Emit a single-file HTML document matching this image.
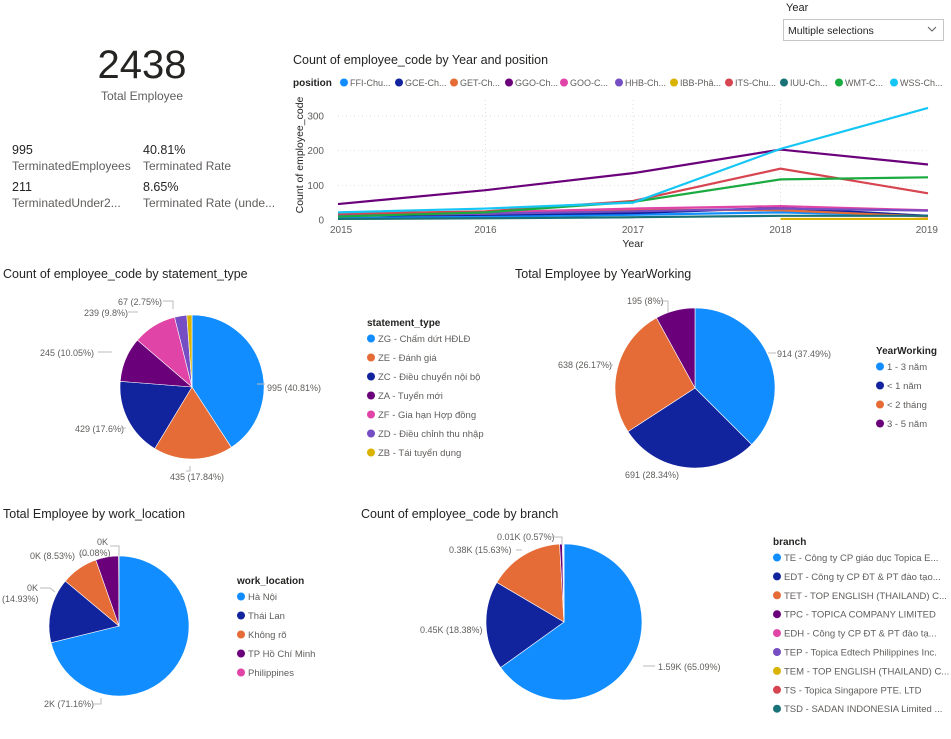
<!DOCTYPE html>
<html><head><meta charset="utf-8"><style>
body{margin:0;background:#fff;width:951px;height:734px;overflow:hidden;font-family:"Liberation Sans","Noto Sans CJK SC",sans-serif}
svg text{font-family:"Liberation Sans","Noto Sans CJK SC",sans-serif}
</style></head><body>
<svg id="s" width="951" height="734" viewBox="0 0 951 734" xmlns="http://www.w3.org/2000/svg">
<g>
<text x="786" y="11" font-size="11" fill="#252423">Year</text>
<rect x="783.5" y="19.5" width="160" height="21" fill="#fff" stroke="#c8c6c4"/>
<text x="788" y="34" font-size="10.5" fill="#252423">Multiple selections</text>
<path d="M928 27 l4 4 l4 -4" fill="none" stroke="#605e5c"/>
</g>
<g>
<text x="142" y="78" font-size="40" text-anchor="middle" fill="#252423">2438</text>
<text x="142" y="100" font-size="12" text-anchor="middle" fill="#605e5c">Total Employee</text>
<text x="12" y="154" font-size="12.5" fill="#252423">995</text>
<text x="12" y="170" font-size="12" fill="#605e5c">TerminatedEmployees</text>
<text x="143" y="154" font-size="12.5" fill="#252423">40.81%</text>
<text x="143" y="170" font-size="12" fill="#605e5c">Terminated Rate</text>
<text x="12" y="191" font-size="12.5" fill="#252423">211</text>
<text x="12" y="207" font-size="12" fill="#605e5c">TerminatedUnder2...</text>
<text x="143" y="191" font-size="12.5" fill="#252423">8.65%</text>
<text x="143" y="207" font-size="12" fill="#605e5c">Terminated Rate (unde...</text>
</g>
<text x="293" y="64" font-size="12.5" fill="#252423">Count of employee_code by Year and position</text>
<g id="lineLegend"><text x="293" y="86" font-size="10" font-weight="bold" fill="#252423">position</text></g>
<g id="lineChart"></g>
<text x="318" y="170" font-size="10.5" fill="#252423" transform="rotate(-90 303 170)" text-anchor="middle">Count of employee_code</text>
<text x="633" y="247" font-size="10.5" fill="#252423" text-anchor="middle">Year</text>

<text x="3" y="278" font-size="12.5" fill="#252423">Count of employee_code by statement_type</text>
<text x="515" y="278" font-size="12.5" fill="#252423">Total Employee by YearWorking</text>
<text x="3" y="518" font-size="12.5" fill="#252423">Total Employee by work_location</text>
<text x="361" y="518" font-size="12.5" fill="#252423">Count of employee_code by branch</text>
<g id="pies"></g>
<g id="legends"></g>
<g font-size="9" fill="#605e5c">
<text x="267" y="391">995 (40.81%)</text><path d="M257 384 h8" stroke="#bbb" fill="none"/>
<text x="170" y="480">435 (17.84%)</text><path d="M190 466 v5 h-4" stroke="#bbb" fill="none"/>
<text x="75" y="432">429 (17.6%)</text><path d="M120 428 h6" stroke="#bbb" fill="none"/>
<text x="40" y="356">245 (10.05%)</text><path d="M98 352 h14" stroke="#bbb" fill="none"/>
<text x="84" y="316">239 (9.8%)</text><path d="M128 312 h10" stroke="#bbb" fill="none"/>
<text x="118" y="305">67 (2.75%)</text><path d="M163 301 h10 v8" stroke="#bbb" fill="none"/>
<text x="777" y="357">914 (37.49%)</text><path d="M768 353 h8" stroke="#bbb" fill="none"/>
<text x="625" y="478">691 (28.34%)</text>
<text x="558" y="368">638 (26.17%)</text><path d="M605 365 h8" stroke="#bbb" fill="none"/>
<text x="627" y="304">195 (8%)</text><path d="M660 301 h8 v12" stroke="#bbb" fill="none"/>
<text x="44" y="707">2K (71.16%)</text><path d="M92 704 h9 v-6" stroke="#bbb" fill="none"/>
<text x="27" y="591">0K</text><text x="2" y="602">(14.93%)</text><path d="M40 588 h10 l5 4" stroke="#bbb" fill="none"/>
<text x="30" y="559">0K (8.53%)</text><path d="M80 555 h8" stroke="#bbb" fill="none"/>
<text x="97" y="545">0K</text><text x="79" y="556">(0.08%)</text><path d="M110 546 h9 v10" stroke="#bbb" fill="none"/>
<text x="658" y="670">1.59K (65.09%)</text><path d="M643 666 h12" stroke="#bbb" fill="none"/>
<text x="420" y="633">0.45K (18.38%)</text>
<text x="449" y="553">0.38K (15.63%)</text><path d="M516 550 h6" stroke="#bbb" fill="none"/>
<text x="497" y="540">0.01K (0.57%)</text><path d="M550 537 h12 v8" stroke="#bbb" fill="none"/>
</g>
</svg>
<script>
const NS="http://www.w3.org/2000/svg";
const years=["2015","2016","2017","2018","2019"];
const yTicks=[0,100,200,300];
const posNames=["FFI-Chu...","GCE-Ch...","GET-Ch...","GGO-Ch...","GOO-C...","HHB-Ch...","IBB-Phâ...","ITS-Chu...","IUU-Ch...","WMT-C...","WSS-Ch..."];
const FFI=[5,10,15,22,12];
const GCE=[12,15,20,35,12];
const GET=[15,18,30,28,10];
const GGO=[46,86,135,203,160];
const GOO=[20,22,33,40,28];
const HHB=[15,18,25,33,27];
const IBB=[null,null,null,3,3];
const ITS=[18,25,55,148,77];
const IUU=[3,5,8,12,12];
const WMT=[10,22,52,117,123];
const WSS=[22,33,50,205,323];
const posSeries=[FFI,GCE,GET,GGO,GOO,HHB,IBB,ITS,IUU,WMT,WSS];
const posColors=["#118DFF","#12239E","#E66C37","#6B007B","#E044A7","#744EC2","#D9B300","#D64550","#197278","#1AAB40","#15C6F4"];

const stmtNames=["ZG - Chấm dứt HĐLĐ","ZE - Đánh giá","ZC - Điều chuyển nội bộ","ZA - Tuyển mới","ZF - Gia hạn Hợp đồng","ZD - Điều chỉnh thu nhập","ZB - Tái tuyển dụng"];
const stmtValues=[995,435,429,245,239,67,28];
const ywNames=["1 - 3 năm","< 1 năm","< 2 tháng","3 - 5 năm"];
const ywValues=[914,691,638,195];
const locNames=["Hà Nội","Thái Lan","Không rõ","TP Hồ Chí Minh","Philippines"];
const locValues=[71.16,14.93,8.53,5.30,0.08];
const brNames=["TE - Công ty CP giáo dục Topica E...","EDT - Công ty CP ĐT & PT đào tạo...","TET - TOP ENGLISH (THAILAND) C...","TPC - TOPICA COMPANY LIMITED","EDH - Công ty CP ĐT & PT đào tạ...","TEP - Topica Edtech Philippines Inc.","TEM - TOP ENGLISH (THAILAND) C...","TS - Topica Singapore PTE. LTD","TSD - SADAN INDONESIA Limited ..."];
const brValues=[65.09,18.38,15.63,0.57,0.1,0.08,0.06,0.05,0.04];
const pal=["#118DFF","#12239E","#E66C37","#6B007B","#E044A7","#744EC2","#D9B300","#D64550","#197278"];

function el(tag,attrs,parent){const e=document.createElementNS(NS,tag);for(const k in attrs)e.setAttribute(k,attrs[k]);parent.appendChild(e);return e;}
const lc=document.getElementById('lineChart');
const x0=338,x1=928,yBase=220,yScale=0.347;
const xs=i=>x0+i*(x1-x0)/(years.length-1);
const ys=v=>yBase-v*yScale;
yTicks.forEach(t=>{
  if(t>0){const g=el('line',{x1:x0,x2:x1,y1:ys(t),y2:ys(t),stroke:'#ddd','stroke-dasharray':'1 3'},lc);
  
  }
  const tx=el('text',{x:324,y:ys(t)+3.5,'font-size':10,fill:'#605e5c','text-anchor':'end'},lc);tx.textContent=t;
  
  
});
years.forEach((y,i)=>{
  if(i>0&&i<years.length-1){const g=el('line',{x1:xs(i),x2:xs(i),y1:100,y2:yBase,stroke:'#ddd','stroke-dasharray':'1 3'},lc);
  
  }
  const tx=el('text',{x:xs(i),y:233,'font-size':10,fill:'#605e5c','text-anchor':i==0?'start':(i==years.length-1?'end':'middle')},lc);tx.textContent=y;
  if(i==0)tx.setAttribute('x',xs(i)-8);
  if(i==years.length-1)tx.setAttribute('x',xs(i)+10);
  
  
});
posSeries.forEach((s,k)=>{
  let d='';s.forEach((v,i)=>{if(v===null)return;d+=(d?'L':'M')+xs(i)+' '+ys(v);});
  const p=el('path',{d:d,fill:'none',stroke:posColors[k],'stroke-width':2.2},lc);
  
  
});
const ll=document.getElementById('lineLegend');
posNames.forEach((n,k)=>{
  const lx=340+k*55;
  const c=el('circle',{cx:lx+4,cy:82.5,r:4,fill:posColors[k]},ll);
  
  
  const t=el('text',{x:lx+10,y:86,'font-size':9,fill:'#605e5c'},ll);t.textContent=n;
  
  
});
const pg=document.getElementById('pies');
function pie(name,cx,cy,r,vals,cols){
  const tot=vals.reduce((a,b)=>a+b,0);let a=-Math.PI/2;
  vals.forEach((v,i)=>{
    const a2=a+v/tot*2*Math.PI;const large=(a2-a)>Math.PI?1:0;
    const d=`M${cx} ${cy}L${cx+r*Math.cos(a)} ${cy+r*Math.sin(a)}A${r} ${r} 0 ${large} 1 ${cx+r*Math.cos(a2)} ${cy+r*Math.sin(a2)}Z`;
    const p=el('path',{d:d,fill:cols[i],stroke:'#fff','stroke-width':0.6},pg);
    
    
    a=a2;
  });
}
pie('statement-pie',192,387,72,stmtValues,["#118DFF","#E66C37","#12239E","#6B007B","#E044A7","#744EC2","#D9B300"]);
pie('yearworking-pie',695,388,80,ywValues,["#118DFF","#12239E","#E66C37","#6B007B"]);
pie('location-pie',119,626,70,locValues,["#118DFF","#12239E","#E66C37","#6B007B","#E044A7"]);
pie('branch-pie',564,622,78,brValues,pal);
const lg=document.getElementById('legends');
function legend(name,title,x,y,step,names,cols){
  const t=el('text',{x:x,y:y,'font-size':10,'font-weight':'bold',fill:'#252423'},lg);t.textContent=title;
  
  
  names.forEach((n,i)=>{
    const yy=y+16+i*step;
    const c=el('circle',{cx:x+4,cy:yy-3.5,r:4,fill:cols[i]},lg);
    
    
    const tt=el('text',{x:x+11,y:yy,'font-size':9.5,fill:'#605e5c'},lg);tt.textContent=n;
    
    
  });
}
legend('statement-legend','statement_type',367,326,19,stmtNames,["#118DFF","#E66C37","#12239E","#6B007B","#E044A7","#744EC2","#D9B300"]);
legend('yearworking-legend','YearWorking',876,354,19,ywNames,["#118DFF","#12239E","#E66C37","#6B007B"]);
legend('location-legend','work_location',237,584,19,locNames,["#118DFF","#12239E","#E66C37","#6B007B","#E044A7"]);
legend('branch-legend','branch',773,545,18.9,brNames,pal);
</script>
</body></html>
